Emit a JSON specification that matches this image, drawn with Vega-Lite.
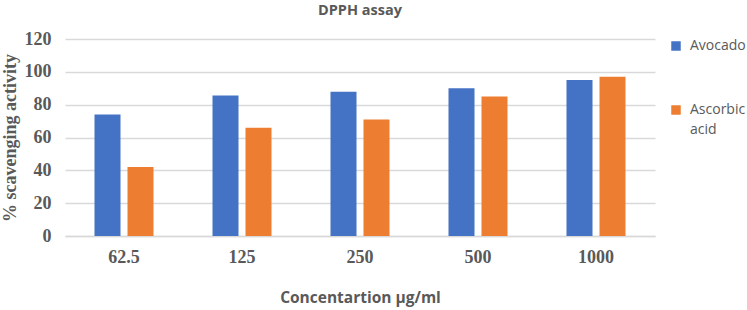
{
  "$schema": "https://vega.github.io/schema/vega-lite/v6.json",
  "width": 590,
  "height": 197,
  "autosize": {"type": "none"},
  "padding": {"left": 65, "top": 39, "right": 92, "bottom": 74},
  "background": "white",
  "title": {"text": "DPPH assay", "font": "Open Sans", "fontSize": 14.5, "fontWeight": "bold", "color": "#595959", "anchor": "middle", "offset": 12},
  "data": {"values": [
    {"conc": "62.5", "series": "Avocado", "value": 74},
    {"conc": "62.5", "series": "Ascorbic acid", "value": 42},
    {"conc": "125", "series": "Avocado", "value": 85.6},
    {"conc": "125", "series": "Ascorbic acid", "value": 66},
    {"conc": "250", "series": "Avocado", "value": 87.8},
    {"conc": "250", "series": "Ascorbic acid", "value": 70.9},
    {"conc": "500", "series": "Avocado", "value": 90},
    {"conc": "500", "series": "Ascorbic acid", "value": 85},
    {"conc": "1000", "series": "Avocado", "value": 95},
    {"conc": "1000", "series": "Ascorbic acid", "value": 97}
  ]},
  "mark": {"type": "bar"},
  "encoding": {
    "x": {"field": "conc", "type": "nominal", "sort": ["62.5", "125", "250", "500", "1000"],
      "scale": {"paddingInner": 0, "paddingOuter": 0},
      "axis": {"title": "Concentartion µg/ml", "titleFont": "Open Sans", "titleFontSize": 15.5, "titleFontWeight": "bold", "titleColor": "#595959", "titlePadding": 24,
        "labelAngle": 0, "labelFont": "Liberation Serif", "labelFontSize": 18, "labelFontWeight": "bold", "labelColor": "#595959", "labelPadding": 12,
        "ticks": false, "domainColor": "#d9d9d9", "domainWidth": 1.3}},
    "xOffset": {"field": "series", "type": "nominal", "sort": ["Avocado", "Ascorbic acid"], "scale": {"paddingInner": 0.212, "paddingOuter": 0.894}},
    "y": {"field": "value", "type": "quantitative", "scale": {"domain": [0, 120]},
      "axis": {"title": "% scavenging activity", "titleFont": "Liberation Serif", "titleFontSize": 18, "titleFontWeight": "bold", "titleColor": "#595959", "titlePadding": 5,
        "values": [0, 20, 40, 60, 80, 100, 120], "labelFont": "Liberation Serif", "labelFontSize": 18, "labelFontWeight": "bold", "labelColor": "#595959", "labelPadding": 14,
        "ticks": false, "domain": false, "gridColor": "#d9d9d9", "gridWidth": 1.3}},
    "color": {"field": "series", "type": "nominal", "sort": ["Avocado", "Ascorbic acid"],
      "scale": {"domain": ["Avocado", "Ascorbic acid"], "range": ["#4472C4", "#ED7D31"]},
      "legend": {"title": null, "orient": "right", "offset": 14, "symbolType": "square", "symbolSize": 90, "symbolStrokeWidth": 0, "symbolOpacity": 1,
        "labelFont": "Open Sans", "labelFontSize": 14, "labelColor": "#595959", "rowPadding": 50, "labelOffset": 7,
        "labelExpr": "datum.label == 'Ascorbic acid' ? ['Ascorbic', 'acid'] : datum.label"}}
  },
  "config": {"view": {"stroke": null}, "style": {"guide-label": {"lineHeight": 20}}}
}
